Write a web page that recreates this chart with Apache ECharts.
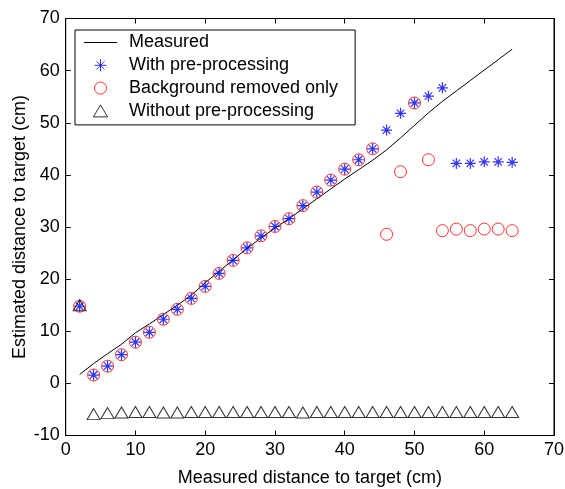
<!DOCTYPE html>
<html>
<head>
<meta charset="utf-8">
<style>
  html, body { margin: 0; padding: 0; background: #fff; }
  #chart { width: 565px; height: 489px; }
</style>
<script src="https://cdn.jsdelivr.net/npm/echarts@6/dist/echarts.min.js"></script>
</head>
<body>
<div id="chart"></div>
<script>
// Target positions (cm) at which each estimate was taken
const distance = [2, 4, 6, 8, 10, 12, 14, 16, 18, 20, 22, 24, 26, 28, 30, 32,
                  34, 36, 38, 40, 42, 44, 46, 48, 50, 52, 54, 56, 58, 60, 62, 64];

// Reference measurement
const measured = [1.7, 3.8, 5.7, 7.5, 9.7, 11.4, 13.2, 15.0, 16.9, 19.3, 21.5, 23.7, 25.9, 27.9, 29.8, 31.6,
                  33.5, 35.4, 37.3, 39.2, 41.0, 42.8, 44.8, 47.1, 49.5, 51.9, 54.1, 56.1, 58.1, 60.1, 62.1, 64.1];

// Estimate with full pre-processing
const withPre = [14.8, 1.6, 3.3, 5.5, 7.9, 9.8, 12.3, 14.2, 16.3, 18.6, 21.1, 23.6, 26.0, 28.3, 30.1, 31.6,
                 34.1, 36.7, 39.0, 41.1, 42.9, 45.0, 48.6, 51.8, 53.8, 55.1, 56.7, 42.2, 42.2, 42.5, 42.5, 42.4];

// Estimate with background removal only
const bgRemoved = [14.8, 1.6, 3.3, 5.5, 7.9, 9.8, 12.3, 14.2, 16.3, 18.6, 21.1, 23.6, 26.0, 28.3, 30.1, 31.6,
                   34.1, 36.7, 39.0, 41.1, 42.9, 45.0, 28.6, 40.6, 53.8, 42.9, 29.3, 29.6, 29.3, 29.6, 29.6, 29.3];

// Estimate without any pre-processing
const withoutPre = [15.0, -5.9, -5.7, -5.6, -5.5, -5.5, -5.6, -5.6, -5.5, -5.5, -5.5, -5.5, -5.5, -5.5, -5.5, -5.5,
                    -5.6, -5.5, -5.5, -5.5, -5.5, -5.5, -5.5, -5.5, -5.5, -5.5, -5.5, -5.5, -5.5, -5.5, -5.5, -5.5];

const seriesNames = ['Measured', 'With pre-processing', 'Background removed only', 'Without pre-processing'];
const xTicks = { min: 0, max: 70, interval: 10 };
const yTicks = { min: -10, max: 70, interval: 10 };

const pairs = ys => distance.map((x, i) => [x, ys[i]]);

const FONT = 'Liberation Sans';
const ASTERISK = 'path://M5,0L5,10M0,5L10,5M1.6,1.6L8.4,8.4M1.6,8.4L8.4,1.6';
const TRIANGLE = 'path://M6.5,0L13,11L0,11Z';
const LINE_ICON = 'path://M0,0L33,0L33,1L0,1Z';

const chart = echarts.init(document.getElementById('chart'), null, { renderer: 'canvas' });

const baseAxis = {
  axisLine: { show: true, onZero: false, lineStyle: { color: '#000', width: 1 } },
  axisTick: { show: true, inside: true, length: 5, lineStyle: { color: '#000' } },
  splitLine: { show: false }
};

chart.setOption({
  animation: false,
  backgroundColor: '#fff',
  textStyle: { fontFamily: FONT },
  grid: {
    left: 65.7, right: 11, top: 18.5, bottom: 53.5,
    outerBoundsMode: 'none', containLabel: false,
    show: true, borderColor: '#000', borderWidth: 1, backgroundColor: 'transparent'
  },
  legend: {
    orient: 'vertical',
    left: 75,
    top: 30,
    data: [
      { name: seriesNames[0], icon: LINE_ICON },
      { name: seriesNames[1], icon: ASTERISK },
      { name: seriesNames[2], icon: 'circle' },
      { name: seriesNames[3], icon: TRIANGLE }
    ],
    symbolKeepAspect: true,
    backgroundColor: '#fff',
    borderColor: '#000',
    borderWidth: 1,
    padding: [3.5, 17, 5, 9],
    itemWidth: 33,
    itemHeight: 12,
    itemGap: 4.8,
    itemStyle: { borderWidth: 1 },
    textStyle: { fontFamily: FONT, fontSize: 18, color: '#000', padding: [0, 0, 0, 7] }
  },
  xAxis: [
    Object.assign({}, baseAxis, {
      type: 'value', position: 'bottom',
      min: xTicks.min, max: xTicks.max, interval: xTicks.interval,
      name: 'Measured distance to target (cm)', nameLocation: 'middle', nameGap: 34,
      nameMoveOverlap: false,
      nameTextStyle: { fontFamily: FONT, fontSize: 18, color: '#000' },
      axisLabel: { color: '#000', fontFamily: FONT, fontSize: 18, margin: 6 }
    }),
    Object.assign({}, baseAxis, {
      type: 'value', position: 'top',
      min: xTicks.min, max: xTicks.max, interval: xTicks.interval,
      axisLabel: { show: false }
    })
  ],
  yAxis: [
    Object.assign({}, baseAxis, {
      type: 'value', position: 'left',
      min: yTicks.min, max: yTicks.max, interval: yTicks.interval,
      name: 'Estimated distance to target (cm)', nameLocation: 'middle', nameGap: 37,
      nameMoveOverlap: false,
      nameTextStyle: { fontFamily: FONT, fontSize: 18, color: '#000' },
      axisLabel: { color: '#000', fontFamily: FONT, fontSize: 18, margin: 6 }
    }),
    Object.assign({}, baseAxis, {
      type: 'value', position: 'right',
      min: yTicks.min, max: yTicks.max, interval: yTicks.interval,
      axisLabel: { show: false }
    })
  ],
  series: [
    {
      name: seriesNames[0], type: 'line', data: pairs(measured),
      symbol: 'none', lineStyle: { color: '#000', width: 1 }, itemStyle: { color: '#000' }, z: 2
    },
    {
      name: seriesNames[2], type: 'scatter', data: pairs(bgRemoved),
      symbol: 'circle', symbolSize: 12,
      itemStyle: { color: 'rgba(0,0,0,0)', borderColor: '#ff0000', borderWidth: 1 }, z: 3
    },
    {
      name: seriesNames[1], type: 'scatter', data: pairs(withPre),
      symbol: ASTERISK, symbolSize: 11,
      itemStyle: { color: 'rgba(0,0,0,0)', borderColor: '#0000ff', borderWidth: 1.2 }, z: 4
    },
    {
      name: seriesNames[3], type: 'scatter', data: pairs(withoutPre),
      symbol: 'triangle', symbolSize: [13, 11],
      itemStyle: { color: 'rgba(0,0,0,0)', borderColor: '#000', borderWidth: 1 }, z: 5
    }
  ]
});
</script>
</body>
</html>
